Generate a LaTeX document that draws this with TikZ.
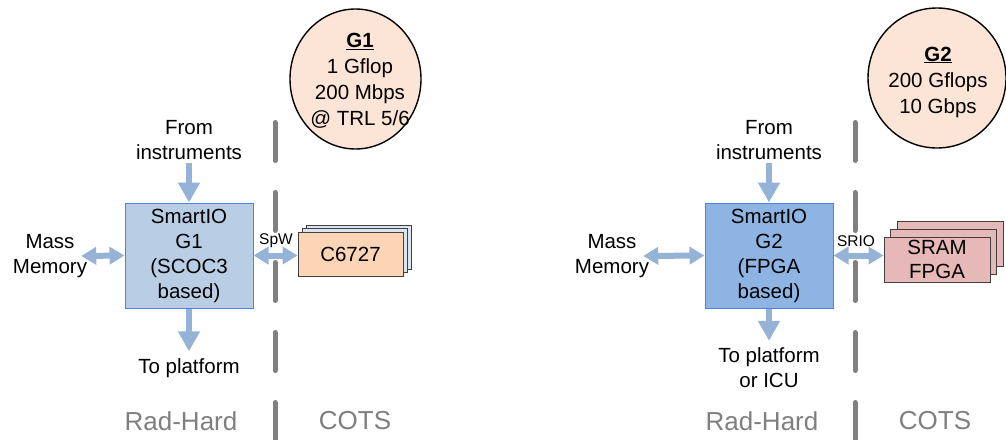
\documentclass[tikz,border=0pt]{standalone}
\usepackage{fontspec}
\setmainfont{Liberation Sans}
\usetikzlibrary{arrows.meta,shapes.geometric,calc}
\definecolor{arrowc}{HTML}{95B3D7}
\definecolor{boxA}{HTML}{B9CDE5}
\definecolor{boxB}{HTML}{8DB4E2}
\definecolor{boxline}{HTML}{4D7FF0}
\definecolor{circfill}{HTML}{FCE4D6}
\definecolor{peach}{HTML}{FBD5B5}
\definecolor{paleblue}{HTML}{DBE5F1}
\definecolor{rose}{HTML}{E6B9B8}
\definecolor{divgray}{HTML}{808080}
\definecolor{txtgray}{HTML}{7F7F7F}
\tikzset{
  txt/.style={align=center, inner sep=0pt, font=\fontsize{20.5}{25}\selectfont},
  small/.style={inner sep=1pt, fill=white, font=\fontsize{15.5}{18}\selectfont},
  big/.style={inner sep=0pt, text=txtgray, font=\fontsize{26}{30}\selectfont},
  sbox/.style={draw=boxline, line width=1pt, align=center, inner sep=0pt,
    minimum width=128pt, minimum height=105pt, font=\fontsize{20.5}{25}\selectfont},
  circ/.style={ellipse, draw=black, line width=1.4pt, fill=circfill, inner sep=0pt},
  circtxt/.style={align=center, inner sep=0pt, font=\fontsize{20.5}{26}\selectfont},
  chip/.style={draw=black!75, line width=0.9pt, align=center, inner sep=0pt,
    font=\fontsize{20.5}{24}\selectfont},
  flow/.style={draw=arrowc, line width=6pt, -{Triangle[length=20pt,width=21pt]}},
  biflow/.style={draw=arrowc, line width=6pt,
    {Triangle[length=15pt,width=17pt]}-{Triangle[length=15pt,width=17pt]}},
  divider/.style={draw=divgray, line width=5pt, line cap=round, dash pattern=on 38pt off 32pt},
}
\begin{document}
\begin{tikzpicture}[x=1pt,y=-1pt]
\useasboundingbox (0,0) rectangle (1006,439);

% dividers
\coordinate (d1a) at (275,122.5);
\coordinate (d1b) at (275,450);
\coordinate (d2a) at (855,122.5);
\coordinate (d2b) at (855,450);
\draw[divider] (d1a) -- (d1b);
\draw[divider] (d2a) -- (d2b);

% ---------- left part ----------
\node[circ, minimum width=131pt, minimum height=140pt] (g1) at (355.5,79) {};
\node[circtxt] (g1t) at (360,81)
  {\underline{\textbf{G1}}\\1 Gflop\\200 Mbps\\@ TRL 5/6};

\node[txt] (fi1) at (189,140) {From\\instruments};
\node[sbox, fill=boxA] (s1) at (189,255.5) {SmartIO\\G1\\(SCOC3\\based)};
\node[txt] (tp1) at (189,368) {To platform};
\node[txt] (mm1) at (50,256) {Mass\\Memory};

\node[chip, fill=paleblue, minimum width=105pt, minimum height=44pt] (c1c) at (358.5,247) {};
\node[chip, fill=paleblue, minimum width=105pt, minimum height=44pt] (c1b) at (354.5,250.5) {};
\node[chip, fill=peach, minimum width=105pt, minimum height=44pt] (c1) at (350.5,254) {C6727};

\node[small] (spw) at (276,241) {SpW};

\draw[flow] ([yshift=-3pt]fi1.south) -- (s1.north);
\draw[flow] (s1.south) -- ([yshift=7pt]tp1.north);
\draw[biflow] ([xshift=-6pt]mm1.east) -- (s1.west);
\draw[biflow] (s1.east) -- (s1.east -| c1.west);

\node[big] (rh1) at (181,421) {Rad-Hard};
\node[big] (ct1) at (355,421) {COTS};

% ---------- right part ----------
\node[circ, minimum width=138pt, minimum height=140pt] (g2) at (937,78) {};
\node[circtxt] (g2t) at (938,82)
  {\underline{\textbf{G2}}\\200 Gflops\\10 Gbps};

\node[txt] (fi2) at (769,140) {From\\instruments};
\node[sbox, fill=boxB] (s2) at (769,255.5) {SmartIO\\G2\\(FPGA\\based)};
\node[txt] (tp2) at (769,368) {To platform\\or ICU};
\node[txt] (mm2) at (612,256) {Mass\\Memory};

\node[chip, fill=rose, minimum width=106pt, minimum height=45pt] (r1c) at (950,243.5) {};
\node[chip, fill=rose, minimum width=106pt, minimum height=45pt] (r1b) at (943.5,251.5) {};
\node[chip, fill=rose, minimum width=106pt, minimum height=45pt] (r1) at (937,259.5) {SRAM\\FPGA};

\node[small] (srio) at (856,241) {SRIO};

\draw[flow] ([yshift=-3pt]fi2.south) -- (s2.north);
\draw[flow] (s2.south) -- ([yshift=7pt]tp2.north);
\draw[biflow] ([xshift=-6pt]mm2.east) -- (s2.west);
\draw[biflow] (s2.east) -- (s2.east -| r1.west);

\node[big] (rh2) at (762,421) {Rad-Hard};
\node[big] (ct2) at (935,421) {COTS};
\end{tikzpicture}
\end{document}
